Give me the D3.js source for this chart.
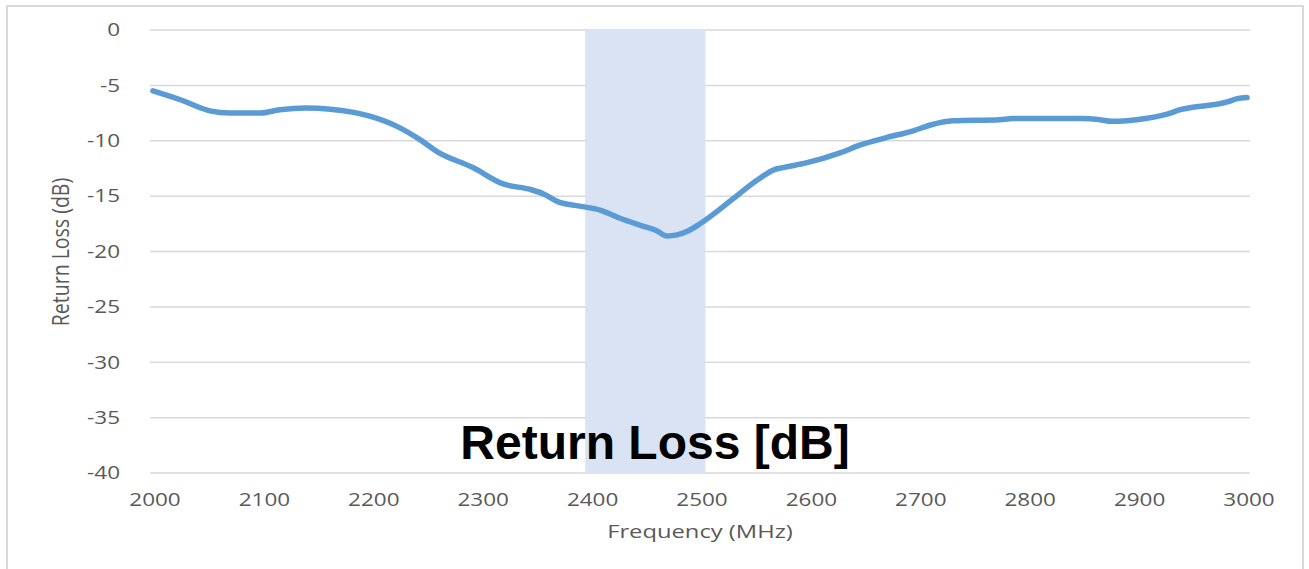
<!DOCTYPE html>
<html>
<head>
<meta charset="utf-8">
<script src="https://cdn.jsdelivr.net/npm/d3@7"></script>
<style>
html,body{margin:0;padding:0;background:#fff;}
svg{display:block;}
</style>
</head>
<body>
<svg id="chart" width="1309" height="569"></svg>
<script>
// ---- data ----
const freq = [2000,2025,2052,2070,2098,2116,2140,2162,2199,2223,2244,2260,2292,2320,2345,2357,2370,2390,2410,2427,2451,2460,2470,2488,2500,2518,2537,2553,2568,2577,2597,2628,2646,2671,2695,2710,2731,2774,2786,2850,2862,2877,2899,2927,2939,2982,2991,3000];
const returnLoss = [-5.5,-6.3,-7.3,-7.5,-7.5,-7.2,-7.05,-7.15,-7.8,-8.7,-9.9,-11.0,-12.4,-13.9,-14.4,-14.8,-15.5,-15.9,-16.3,-17.0,-17.8,-18.1,-18.6,-18.2,-17.5,-16.2,-14.7,-13.5,-12.6,-12.4,-12.0,-11.1,-10.4,-9.7,-9.1,-8.6,-8.2,-8.1,-8.0,-8.0,-8.05,-8.25,-8.1,-7.6,-7.2,-6.5,-6.2,-6.1];
const xTicks = [2000,2100,2200,2300,2400,2500,2600,2700,2800,2900,3000];
const yTicks = [0,-5,-10,-15,-20,-25,-30,-35,-40];
const band = [2395,2505];
const title = "Return Loss [dB]";
const xTitle = "Frequency (MHz)";
const yTitle = "Return Loss (dB)";

// ---- drawing ----
const svg = d3.select("#chart");
const x = d3.scaleLinear().domain([2000,3000]).range([153,1247]);
const y = d3.scaleLinear().domain([-40,0]).range([473,30]);
const gridColor = "#d9d9d9";
const textColor = "#595959";
const sx = 1.25;

// outer border
svg.append("rect").attr("x",7).attr("y",6).attr("width",1296).attr("height",600)
  .attr("fill","none").attr("stroke",gridColor).attr("stroke-width",2);

// gridlines
svg.append("g").selectAll("line").data(yTicks).join("line")
  .attr("x1",150).attr("x2",1250)
  .attr("y1",d=>y(d)).attr("y2",d=>y(d))
  .attr("stroke",gridColor).attr("stroke-width",1.5);

// band
svg.append("rect")
  .attr("x",x(band[0])).attr("width",x(band[1])-x(band[0]))
  .attr("y",y(0)).attr("height",y(-40)-y(0))
  .attr("fill","#dae3f3");

// y tick labels
svg.append("g").selectAll("text").data(yTicks).join("text")
  .attr("transform",d=>`translate(120,${y(d)}) scale(${sx},1)`)
  .attr("text-anchor","end").attr("dy","0.35em")
  .attr("font-family","'Open Sans', sans-serif").attr("font-size",18)
  .attr("fill",textColor).text(d=>d);

// x tick labels
svg.append("g").selectAll("text").data(xTicks).join("text")
  .attr("transform",d=>`translate(${x(d)+2},506) scale(${sx},1)`)
  .attr("text-anchor","middle")
  .attr("font-family","'Open Sans', sans-serif").attr("font-size",18)
  .attr("fill",textColor).text(d=>d);

// axis titles
svg.append("text")
  .attr("transform",`translate(700,538) scale(${sx},1)`)
  .attr("text-anchor","middle")
  .attr("font-family","'Open Sans', sans-serif").attr("font-size",19)
  .attr("fill",textColor).text(xTitle);

svg.append("text")
  .attr("transform",`translate(69,252) scale(${sx},1) rotate(-90)`)
  .attr("text-anchor","middle")
  .attr("font-family","'Open Sans', sans-serif").attr("font-size",19.5)
  .attr("fill",textColor).text(yTitle);

// line
const pts = freq.map((f,i)=>[f,returnLoss[i]]);
svg.append("path").datum(pts)
  .attr("d",d3.line().x(d=>x(d[0])).y(d=>y(d[1])).curve(d3.curveMonotoneX))
  .attr("fill","none").attr("stroke","#5b9bd5").attr("stroke-width",5.5)
  .attr("stroke-linejoin","round").attr("stroke-linecap","round");

// big title
svg.append("text")
  .attr("x",655).attr("y",459).attr("text-anchor","middle")
  .attr("font-family","'Liberation Sans', Arial, sans-serif").attr("font-weight","bold")
  .attr("font-size",48).attr("fill","#000").text(title);
</script>
</body>
</html>
